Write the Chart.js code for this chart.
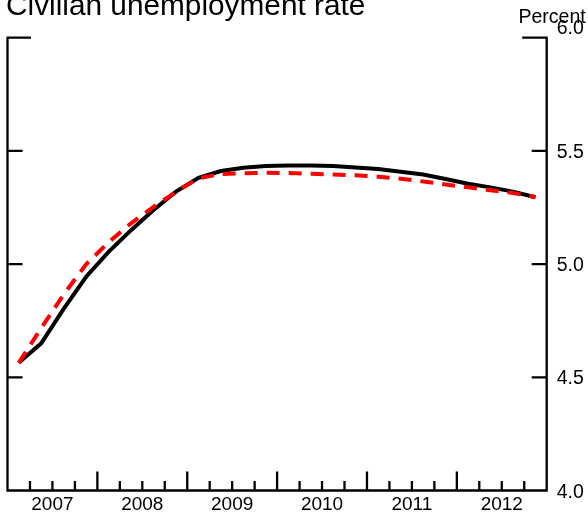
<!DOCTYPE html>
<html>
<head>
<meta charset="utf-8">
<style>
  html, body { margin: 0; padding: 0; background: #fff; }
  #wrap { width: 588px; height: 516px; position: relative; }
  canvas { display: block; }
</style>
<script src="https://cdn.jsdelivr.net/npm/chart.js@4.4.1/dist/chart.umd.min.js"></script>
</head>
<body>
<div id="wrap"><canvas id="c" width="588" height="516"></canvas></div>
<script>
// ---- Data ----
const titleText = "Civilian unemployment rate";
const unitText = "Percent";
const years = ["2007", "2008", "2009", "2010", "2011", "2012"];
const quarters = [
  "2007 Q1","2007 Q2","2007 Q3","2007 Q4",
  "2008 Q1","2008 Q2","2008 Q3","2008 Q4",
  "2009 Q1","2009 Q2","2009 Q3","2009 Q4",
  "2010 Q1","2010 Q2","2010 Q3","2010 Q4",
  "2011 Q1","2011 Q2","2011 Q3","2011 Q4",
  "2012 Q1","2012 Q2","2012 Q3","2012 Q4"
];
const solidSeries = [4.564, 4.650, 4.802, 4.944, 5.054, 5.150, 5.239, 5.320,
                     5.381, 5.411, 5.426, 5.433, 5.436, 5.436, 5.433, 5.427,
                     5.420, 5.408, 5.396, 5.376, 5.355, 5.339, 5.320, 5.295];
const dashedSeries = [4.564, 4.717, 4.866, 4.999, 5.097, 5.180, 5.253, 5.319,
                      5.379, 5.398, 5.401, 5.403, 5.402, 5.399, 5.396, 5.392,
                      5.386, 5.377, 5.365, 5.352, 5.339, 5.326, 5.314, 5.296];
const yTickValues = [4.0, 4.5, 5.0, 5.5, 6.0];
const yTickLabels = ["4.0", "4.5", "5.0", "5.5", "6.0"];

const FONT = '"Liberation Sans", Arial, Helvetica, sans-serif';

const framePlugin = {
  id: 'frame',
  afterDraw(chart) {
    const ctx = chart.ctx;
    const xs = chart.scales.x, ys = chart.scales.y;
    const L = xs.left, R = xs.right;
    const T = ys.getPixelForValue(6.0), B = ys.getPixelForValue(4.0);
    const nQ = quarters.length;
    const qw = (R - L) / nQ;
    ctx.save();
    ctx.strokeStyle = '#000';
    ctx.lineWidth = 2.3;
    ctx.lineCap = 'butt';
    ctx.beginPath();
    ctx.moveTo(L - 1, T); ctx.lineTo(L + 23.5, T);
    ctx.moveTo(L, T); ctx.lineTo(L, B + 1);
    ctx.moveTo(R + 1, T); ctx.lineTo(R - 24.5, T);
    ctx.moveTo(R, T); ctx.lineTo(R, B + 1);
    ctx.moveTo(L - 1, B); ctx.lineTo(R + 1, B);
    ctx.stroke();
    ctx.beginPath();
    yTickValues.forEach(v => {
      if (v <= 4.0 || v >= 6.0) return;
      const y = ys.getPixelForValue(v);
      ctx.moveTo(L, y); ctx.lineTo(L + 15, y);
      ctx.moveTo(R, y); ctx.lineTo(R - 15, y);
    });
    for (let i = 1; i < nQ; i++) {
      const x = L + qw * i;
      const len = (i % 4 === 0) ? 19 : 9.5;
      ctx.moveTo(x, B); ctx.lineTo(x, B - len);
    }
    ctx.stroke();
    ctx.fillStyle = '#000';
    ctx.font = '19.5px ' + FONT;
    ctx.textAlign = 'left';
    ctx.textBaseline = 'alphabetic';
    yTickValues.forEach((v, k) => {
      let y = ys.getPixelForValue(v) + 7;
      if (v >= 6.0) y -= 10.5;
      ctx.fillText(yTickLabels[k], R + 10, y);
    });
    ctx.fillText(unitText, 518.5, 23.3);
    ctx.font = '19px ' + FONT;
    ctx.textAlign = 'center';
    years.forEach((yr, k) => {
      const x = L + qw * (4 * k + 2);
      ctx.fillText(yr, x, 510);
    });
    ctx.font = '29.8px ' + FONT;
    ctx.textAlign = 'left';
    ctx.fillText(titleText, 6, 15);
    ctx.restore();
  }
};

new Chart(document.getElementById('c'), {
  type: 'line',
  data: {
    labels: quarters,
    datasets: [
      {
        label: 'dashed',
        data: dashedSeries,
        borderColor: '#ff0000',
        borderWidth: 4,
        borderDash: [13, 9],
        borderCapStyle: 'butt',
        pointRadius: 0,
        tension: 0,
        fill: false,
        order: 0
      },
      {
        label: 'solid',
        data: solidSeries,
        borderColor: '#000000',
        borderWidth: 4,
        borderCapStyle: 'butt',
        pointRadius: 0,
        tension: 0,
        fill: false,
        order: 1
      }
    ]
  },
  options: {
    responsive: false,
    animation: false,
    layout: { padding: { left: 7.5, right: 41.3, top: 37.7, bottom: 25.5 } },
    plugins: { legend: { display: false }, tooltip: { enabled: false }, title: { display: false } },
    scales: {
      x: { type: 'category', offset: true, display: false },
      y: { type: 'linear', min: 4.0, max: 6.0, display: false }
    }
  },
  plugins: [framePlugin]
});
</script>
</body>
</html>
